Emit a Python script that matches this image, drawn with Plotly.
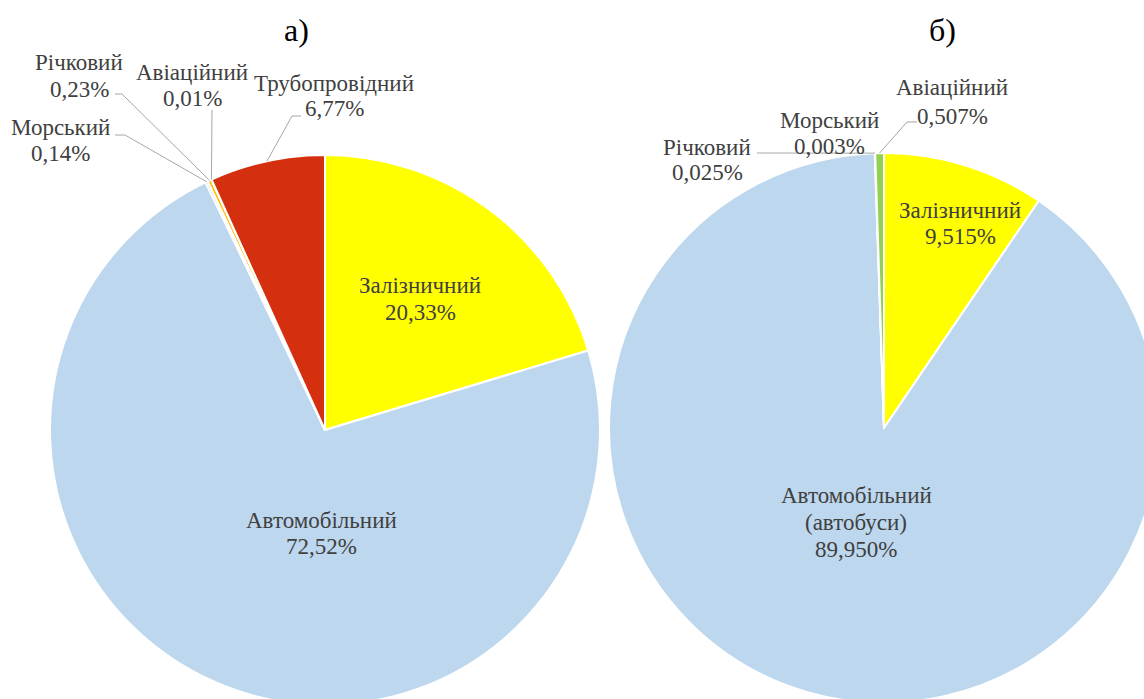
import math
import plotly.graph_objects as go

# Transport mode shares, %
left_labels = ["Залізничний", "Автомобільний", "Морський", "Річковий", "Авіаційний", "Трубопровідний"]
left_values = [20.33, 72.52, 0.14, 0.23, 0.01, 6.77]
left_text = ["20,33%", "72,52%", "0,14%", "0,23%", "0,01%", "6,77%"]

right_labels = ["Залізничний", "Автомобільний (автобуси)", "Річковий", "Морський", "Авіаційний"]
right_values = [9.515, 89.950, 0.025, 0.003, 0.507]
right_text = ["9,515%", "89,950%", "0,025%", "0,003%", "0,507%"]

mode_colors = {
    "Залізничний": "#FFFF00",
    "Автомобільний": "#BDD7EE",
    "Автомобільний (автобуси)": "#BDD7EE",
    "Морський": "#A5A5A5",
    "Річковий": "#FFC000",
    "Авіаційний": "#92D050",
    "Трубопровідний": "#D4300F",
}

# Canvas slightly wider/taller than the view so the pies run off the edges
W, H = 1160, 706
R = 275
left_c = (325, 430)
right_c = (884, 428)

FONT = "Liberation Serif, serif"
TXT = "#404040"
LINE = "#A6A6A6"


def px(x):
    return x / W


def py(y):
    return 1 - y / H


def domain(c):
    return dict(x=[px(c[0] - R), px(c[0] + R)], y=[py(c[1] + R), py(c[1] - R)])


def rim_point(c, values, idx):
    """Point on the outer rim at the bisector of slice idx (clockwise from 12 o'clock)."""
    total = sum(values)
    start = sum(values[:idx])
    mid = (start + values[idx] / 2) / total * 2 * math.pi
    return (c[0] + R * math.sin(mid), c[1] - R * math.cos(mid))


fig = go.Figure()
for c, labels, values in [(left_c, left_labels, left_values), (right_c, right_labels, right_values)]:
    fig.add_trace(go.Pie(
        labels=labels,
        values=values,
        sort=False,
        direction="clockwise",
        rotation=0,
        textinfo="none",
        hoverinfo="label+percent",
        marker=dict(colors=[mode_colors[l] for l in labels], line=dict(color="white", width=2)),
        domain=domain(c),
        showlegend=False,
    ))

# Label placement: x centre and y centre of each text line (pixels)
left_pos = {
    "Залізничний": (420, [286, 312]),
    "Автомобільний": (321, [520, 546]),
    "Морський": (60, [128, 153]),
    "Річковий": (79, [63, 89]),
    "Авіаційний": (192, [72, 98]),
    "Трубопровідний": (334, [83, 108]),
}
right_pos = {
    "Залізничний": (960, [210, 236]),
    "Автомобільний (автобуси)": (856, [495, 522, 549]),
    "Річковий": (707, [147, 173]),
    "Морський": (829, [120, 146]),
    "Авіаційний": (952, [88, 116]),
}

annotations = []
for labels, texts, pos in [(left_labels, left_text, left_pos), (right_labels, right_text, right_pos)]:
    for lab, t in zip(labels, texts):
        x, ys = pos[lab]
        name_lines = lab.replace(" (", "\n(").split("\n")
        for line, y in zip(name_lines + [t], ys):
            annotations.append(dict(
                x=px(x), y=py(y), xref="paper", yref="paper",
                text=line, showarrow=False,
                xanchor="center", yanchor="middle", align="center",
                font=dict(family=FONT, size=23, color=TXT),
            ))

annotations.append(dict(x=px(296), y=py(30), xref="paper", yref="paper", text="а)",
                        showarrow=False, xanchor="center", yanchor="middle",
                        font=dict(family=FONT, size=32, color="black")))
annotations.append(dict(x=px(942), y=py(30), xref="paper", yref="paper", text="б)",
                        showarrow=False, xanchor="center", yanchor="middle",
                        font=dict(family=FONT, size=32, color="black")))

# Leader lines: label-side elbow points, ending on the slice rim
leaders = [
    (left_c, left_values, 2, [(115, 135), (125, 135)]),
    (left_c, left_values, 3, [(115, 94), (122, 94)]),
    (left_c, left_values, 4, [(212, 110)]),
    (left_c, left_values, 5, [(301, 116), (292, 116)]),
    (right_c, right_values, 2, [(757, 153)]),
    (right_c, right_values, 4, [(917, 122), (907, 122)]),
]

shapes = []
for c, values, idx, pts in leaders:
    ax, ay = rim_point(c, values, idx)
    path_pts = pts + [(ax, ay)]
    d = "M " + " L ".join(f"{px(x):.5f},{py(y):.5f}" for x, y in path_pts)
    shapes.append(dict(type="path", xref="paper", yref="paper", path=d,
                       line=dict(color=LINE, width=1)))

fig.update_layout(
    width=W, height=H,
    margin=dict(l=0, r=0, t=0, b=0),
    paper_bgcolor="white",
    plot_bgcolor="white",
    font=dict(family=FONT),
    annotations=annotations,
    shapes=shapes,
)

fig.write_html(
    "out.html",
    post_script="document.body.style.margin='0';document.body.style.overflow='hidden';"
                "document.documentElement.style.overflow='hidden';",
)
